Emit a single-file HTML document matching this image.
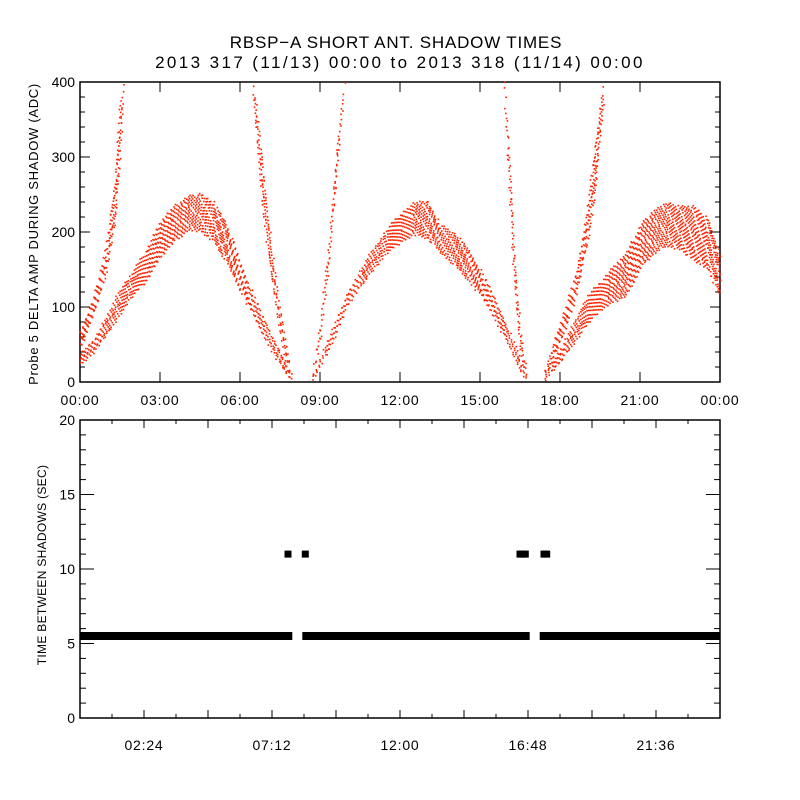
<!DOCTYPE html>
<html><head><meta charset="utf-8"><style>
html,body{margin:0;padding:0;background:#fff;}
svg{display:block;font-family:"Liberation Sans",sans-serif;}
</style></head><body>
<svg id="chart" width="800" height="800" viewBox="0 0 800 800">
<text x="396" y="48" font-size="17" letter-spacing="0.8" text-anchor="middle">RBSP−A SHORT ANT. SHADOW TIMES</text>
<text x="400" y="68" font-size="17" letter-spacing="2.4" text-anchor="middle">2013 317 (11/13) 00:00 to 2013 318 (11/14) 00:00</text>
<g id="p1"></g>
<g id="p2"></g>
</svg>
<script>
// ---- Panel 1 data: branches (hours, lower ADC, upper ADC) ----
const bA_t=[0,0.5,1,1.5,2,2.5,3,3.5,4,4.5,5,5.5,6,6.5,7,7.5,7.9];
const bA_lo=[22,38,62,90,115,135,165,185,200,200,185,155,120,85,50,20,0];
const bA_hi=[38,58,90,125,150,180,215,235,248,252,240,210,160,115,75,40,10];
const bB_t=[0,0.3,0.6,0.9,1.1,1.3,1.45,1.6];
const bB_lo=[45,70,100,135,170,210,280,380];
const bB_hi=[70,95,130,170,220,275,360,400];
const bC_t=[6.5,6.8,7.1,7.4,7.7,7.9];
const bC_lo=[370,240,150,80,25,0];
const bC_hi=[400,300,200,115,55,10];
const bD_t=[8.7,9.0,9.3,9.6,9.9];
const bD_lo=[0,60,150,270,395];
const bD_hi=[10,80,180,310,400];
const bE_t=[8.7,9.5,10,10.5,11,11.5,12,12.5,13,13.5,14,14.5,15,15.5,16,16.4,16.7];
const bE_lo=[0,55,100,125,150,170,185,195,190,170,155,135,115,85,50,20,0];
const bE_hi=[8,75,120,150,180,205,225,240,242,210,200,180,150,115,75,40,10];
const bF_t=[15.9,16.1,16.3,16.5,16.75];
const bF_lo=[380,240,110,35,0];
const bF_hi=[400,290,160,65,10];
const bG_t=[17.4,18,18.5,19,19.5,20,20.5,21,21.5,22,22.5,23,23.5,24];
const bG_lo=[0,25,50,75,95,105,115,150,170,180,175,160,150,110];
const bG_hi=[10,45,80,115,135,155,175,210,230,240,235,235,220,170];
const bH_t=[17.4,17.8,18.2,18.6,19,19.3,19.6];
const bH_lo=[5,35,70,115,180,250,370];
const bH_hi=[15,60,100,150,230,320,400];
const branches=[[bA_t,bA_lo,bA_hi],[bB_t,bB_lo,bB_hi],[bC_t,bC_lo,bC_hi],[bD_t,bD_lo,bD_hi],[bE_t,bE_lo,bE_hi],[bF_t,bF_lo,bF_hi],[bG_t,bG_lo,bG_hi],[bH_t,bH_lo,bH_hi]];
const p1Ticks=[0,100,200,300,400];
const p1XLabels=["00:00","03:00","06:00","09:00","12:00","15:00","18:00","21:00","00:00"];
// ---- Panel 2 data ----
const segStart=[0.0,8.45,17.35];
const segEnd=[7.85,16.75,24.0];
const segVal=[5.5,5.5,5.5];
const highT=[7.8,8.45,16.5,16.6,16.7,17.4,17.5];
const highV=[11,11,11,11,11,11,11];
const p2Ticks=[0,5,10,15,20];
const p2XLabels=["02:24","07:12","12:00","16:48","21:36"];

const NS="http://www.w3.org/2000/svg";
function mk(parent,tag,attrs){const e=document.createElementNS(NS,tag);for(const k in attrs)e.setAttribute(k,attrs[k]);parent.appendChild(e);return e;}
const X0=80,X1=720;
const xs=h=>X0+(h/24)*(X1-X0);
const y1=v=>382-v*0.75;
const y2=v=>718-v*14.9;
const p1=document.getElementById('p1'),p2=document.getElementById('p2');

function interp(ts,vs,t){for(let i=0;i<ts.length-1;i++){if(t>=ts[i]&&t<=ts[i+1]){const f=(t-ts[i])/(ts[i+1]-ts[i]);return vs[i]+f*(vs[i+1]-vs[i]);}}return null;}

const f1=mk(p1,'rect',{x:X0,y:82,width:X1-X0,height:300,fill:'none',stroke:'#000','stroke-width':1.5});


let tk=mk(p1,'g',{stroke:'#000','stroke-width':1});


for(let v=0;v<=400;v+=20){const L=(v%100===0)?10:5;const yy=y1(v);mk(tk,'line',{x1:X0,x2:X0+L,y1:yy,y2:yy});mk(tk,'line',{x1:X1,x2:X1-L,y1:yy,y2:yy});}
for(let h=0;h<=24;h+=3){const xx=xs(h);mk(tk,'line',{x1:xx,x2:xx,y1:382,y2:372});mk(tk,'line',{x1:xx,x2:xx,y1:82,y2:92});}
p1Ticks.forEach(v=>{const t=mk(p1,'text',{x:X0-5,y:y1(v)+5,'font-size':14,'text-anchor':'end'});t.textContent=v;

});
p1XLabels.forEach((s,i)=>{const t=mk(p1,'text',{x:xs(i*3),y:405,'font-size':14,'letter-spacing':0.8,'text-anchor':'middle'});t.textContent=s;

});
const yt=mk(p1,'text',{transform:'translate(38,234) rotate(-90)','font-size':13,'letter-spacing':0.7,'text-anchor':'middle'});
yt.textContent='Probe 5 DELTA AMP DURING SHADOW (ADC)';



const dg=mk(p1,'g',{fill:'#ff2200'});


let k=0;
branches.forEach(([ts,lo,hi])=>{
  const t0=ts[0],t1=ts[ts.length-1];
  for(let t=t0;t<=t1;t+=0.03){
    const a=interp(ts,lo,t),b=interp(ts,hi,t);if(a===null)continue;
    const n=Math.max(1,Math.round((b-a)/10));
    for(let j=0;j<n;j++){k++;const fr=(k*0.618034)%1;const fx=(k*0.754878)%1;const v=a+fr*(b-a);
      if(v>400||v<0)continue;
      const d=mk(dg,'rect',{x:(xs(t)+fx*1.6-0.8).toFixed(1),y:(y1(v)-1).toFixed(1),width:1.6,height:1.6});
      
      }
  }
});

const f2=mk(p2,'rect',{x:X0,y:420,width:X1-X0,height:298,fill:'none',stroke:'#000','stroke-width':1.5});


let tk2=mk(p2,'g',{stroke:'#000','stroke-width':1});


for(let v=0;v<=20;v+=1){const L=(v%5===0)?14:6;const yy=y2(v);mk(tk2,'line',{x1:X0,x2:X0+L,y1:yy,y2:yy});mk(tk2,'line',{x1:X1,x2:X1-L,y1:yy,y2:yy});}
for(let i=0;i<=20;i++){const h=i*1.2;const xx=xs(h);const L=(i%2===0)?8:4;mk(tk2,'line',{x1:xx,x2:xx,y1:718,y2:718-L});mk(tk2,'line',{x1:xx,x2:xx,y1:420,y2:420+L});}
p2Ticks.forEach(v=>{const t=mk(p2,'text',{x:X0-5,y:y2(v)+5,'font-size':14,'text-anchor':'end'});t.textContent=v;

});
p2XLabels.forEach((s,i)=>{const t=mk(p2,'text',{x:xs((i+1)*4.8-2.4),y:750,'font-size':14,'letter-spacing':0.8,'text-anchor':'middle'});t.textContent=s;

});
const yt2=mk(p2,'text',{transform:'translate(46,565) rotate(-90)','font-size':12,'letter-spacing':0.3,'text-anchor':'middle'});
yt2.textContent='TIME BETWEEN SHADOWS (SEC)';



const ag=mk(p2,'g',{fill:'#000'});


segStart.forEach((s,i)=>{for(let t=s;t<=segEnd[i]+1e-9;t+=0.05){const x=Math.max(X0,Math.min(X1-6,xs(t)-3));const r=mk(ag,'rect',{x:x.toFixed(1),y:(y2(segVal[i])-4).toFixed(1),width:6,height:8});

}});
highT.forEach((t,i)=>{const r=mk(ag,'rect',{x:(xs(t)-3.5).toFixed(1),y:(y2(highV[i])-3.5).toFixed(1),width:7,height:7});

});
</script>
</body></html>
